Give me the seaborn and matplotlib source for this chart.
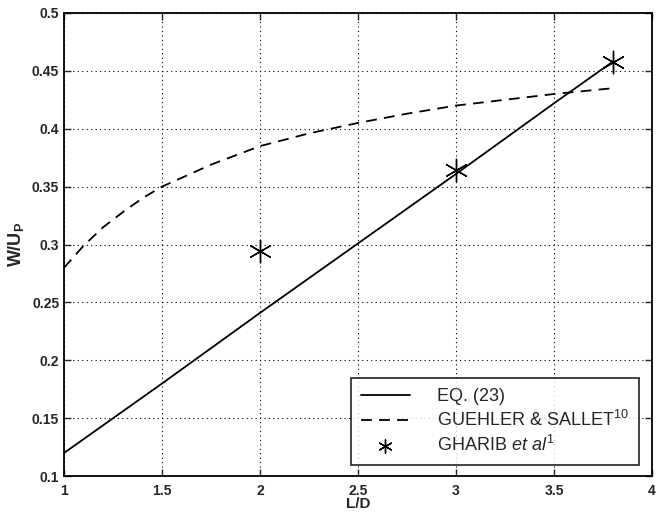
import numpy as np
import pandas as pd
import matplotlib
matplotlib.use("Agg")
import matplotlib.pyplot as plt
import seaborn as sns

# data
eq_x = [1.0, 1.5, 2.0, 2.5, 3.0, 3.5, 3.8]
eq_y = [0.120, 0.180, 0.241, 0.301, 0.361, 0.422, 0.458]

guehler_x = [1.0, 1.1, 1.2, 1.3, 1.4, 1.5, 1.75, 2.0, 2.25, 2.5, 2.75, 3.0, 3.25, 3.5, 3.8]
guehler_y = [0.280, 0.299, 0.315, 0.328, 0.340, 0.350, 0.369, 0.385, 0.396, 0.405, 0.413, 0.420, 0.425, 0.430, 0.435]

gharib_x = [2.0, 3.0, 3.8]
gharib_y = [0.294, 0.364, 0.458]

sns.set_style("ticks")
plt.rcParams['font.family'] = ['Liberation Sans', 'DejaVu Sans']
plt.rcParams['mathtext.fontset'] = 'custom'
plt.rcParams['mathtext.rm'] = 'Liberation Sans'
plt.rcParams['mathtext.it'] = 'Liberation Sans:italic'
plt.rcParams['mathtext.bf'] = 'Liberation Sans:bold'

fig = plt.figure(figsize=(6.6, 5.17), dpi=100)
ax = fig.add_axes([0.097, 0.079, 0.891, 0.896])

sns.lineplot(x=eq_x, y=eq_y, ax=ax, color='black', linewidth=1.3,
             label='EQ. (23)')
sns.lineplot(x=guehler_x, y=guehler_y, ax=ax, color='black', linewidth=1.3,
             linestyle=(0, (6, 4)), label='GUEHLER & SALLET$^{10}$')
sns.scatterplot(x=gharib_x, y=gharib_y, ax=ax, marker=(6, 2, 0), s=260,
                color='black', linewidth=1.0, label=r'GHARIB $\it{et\ al}^{1}$')

ax.set_xlim(1, 4)
ax.set_ylim(0.1, 0.5)
ax.set_xticks([1, 1.5, 2, 2.5, 3, 3.5, 4])
ax.set_xticklabels(['1', '1.5', '2', '2.5', '3', '3.5', '4'])
ax.set_yticks(np.arange(0.1, 0.51, 0.05))
ax.set_yticklabels(['0.1', '0.15', '0.2', '0.25', '0.3', '0.35', '0.4', '0.45', '0.5'])
ax.grid(True, color='black', linestyle=(0, (1, 3)), linewidth=0.8)
ax.tick_params(direction='in', top=True, right=True, length=5, width=1,
               labelsize=10)
ax.tick_params(axis='x', pad=6)
for lab in ax.get_xticklabels() + ax.get_yticklabels():
    lab.set_fontweight('bold')
for sp in ax.spines.values():
    sp.set_linewidth(1.3)
    sp.set_color('black')

ax.set_xlabel('L/D', fontsize=11, fontweight='bold', labelpad=-1)
ax.set_ylabel(r'W/U$_\mathbf{P}$', fontsize=13, fontweight='bold', labelpad=4)

leg = ax.legend(loc='lower right', bbox_to_anchor=(0.977, 0.025), fontsize=13,
                frameon=True, fancybox=False, edgecolor='black',
                handlelength=2.7, handletextpad=1.5, borderpad=0.55,
                labelspacing=0.25, markerscale=0.6, borderaxespad=0)
leg.get_frame().set_linewidth(1.3)

fig.savefig('out.png', dpi=100)
